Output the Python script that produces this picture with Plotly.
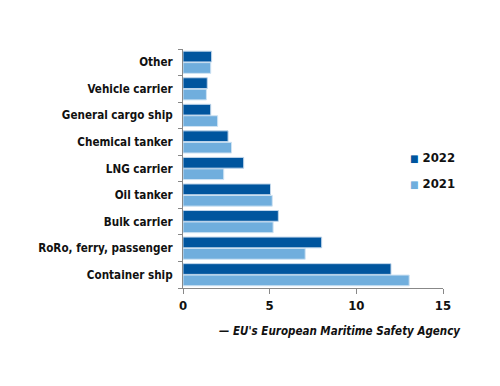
import plotly.graph_objects as go

categories = ["Container ship", "RoRo, ferry, passenger", "Bulk carrier", "Oil tanker",
              "LNG carrier", "Chemical tanker", "General cargo ship", "Vehicle carrier", "Other"]
values_2022 = [12.0, 8.0, 5.5, 5.05, 3.5, 2.6, 1.6, 1.4, 1.65]
values_2021 = [13.05, 7.05, 5.2, 5.15, 2.35, 2.8, 2.0, 1.35, 1.6]
x_ticks = [0, 5, 10, 15]

FONT = "DejaVu Sans Condensed"
C22, C21 = "#00559E", "#70AEDD"
fig = go.Figure()
fig.add_trace(go.Bar(y=categories, x=values_2021, name="2021", orientation="h", showlegend=False,
                     marker=dict(color=C21, line=dict(color="#CFE3F3", width=1))))
fig.add_trace(go.Bar(y=categories, x=values_2022, name="2022", orientation="h", showlegend=False,
                     marker=dict(color=C22, line=dict(color="#BFD5EA", width=1))))
# legend entries (2022 listed first)
for name, col, grp in [("2022", C22, "a"), ("2021", C21, "b")]:
    fig.add_trace(go.Scatter(x=[None], y=[None], mode="lines", line=dict(width=0),
                             legendgroup=grp, hoverinfo="skip",
                             name=f'<span style="color:{col};font-size:10px">■</span> {name}'))

# page has an 8px body margin; figure is offset by it
OFF = 8
W, H = 500 - OFF, 386 - OFF
L, R, T, B = 183 - OFF, 57, 49 - OFF, 98
pw, ph = W - L - R, H - T - B

fig.update_layout(
    width=W, height=H,
    margin=dict(l=L, r=R, t=T, b=B),
    plot_bgcolor="white", paper_bgcolor="white",
    barmode="group", bargap=0.14, bargroupgap=0.06,
    font=dict(family=FONT, size=12, color="#111111"),
    showlegend=True,
    legend=dict(x=(410 - 40 - OFF - L) / pw, y=(H - B - (170 - OFF)) / ph,
                xanchor="left", yanchor="middle",
                traceorder="grouped", tracegroupgap=7,
                font=dict(family=FONT, size=13, color="#111111", weight="bold"),
                bgcolor="rgba(0,0,0,0)", itemwidth=30),
    xaxis=dict(range=[0, 15], tickvals=x_ticks, showgrid=False, zeroline=False,
               showline=True, linecolor="#888888", linewidth=1, ticks="outside",
               ticklen=5, tickcolor="#888888", automargin=False,
               tickfont=dict(family=FONT, size=13, color="#111111", weight="bold")),
    yaxis=dict(showgrid=False, showline=True, linecolor="#888888", linewidth=1,
               ticks="outside", tickson="boundaries", ticklen=4, tickcolor="#888888",
               automargin=False,
               tickfont=dict(family=FONT, size=11.6, color="#111111", weight="bold"),
               ticklabelstandoff=7),
    annotations=[dict(text="<i><b>— EU's European Maritime Safety Agency</b></i>",
                      x=(463 - OFF - L) / pw, y=(H - B - (331 - OFF)) / ph,
                      xref="paper", yref="paper",
                      xanchor="right", yanchor="middle", showarrow=False,
                      font=dict(family=FONT, size=11.5, color="#111111"))],
)
fig.write_html("out.html")
